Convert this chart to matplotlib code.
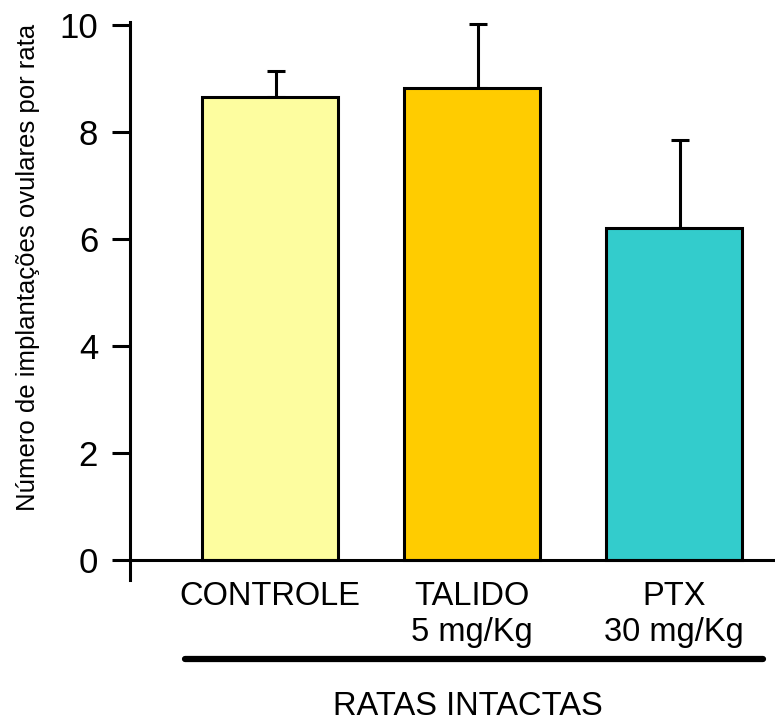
import numpy as np
import matplotlib.pyplot as plt
from matplotlib.lines import Line2D

plt.rcParams['font.family'] = ['Liberation Sans', 'DejaVu Sans']

groups = ['CONTROLE', 'TALIDO\n5 mg/Kg', 'PTX\n30 mg/Kg']
means = [8.66, 8.83, 6.20]
sem = [0.49, 1.20, 1.65]
colors = ['#FDFD9F', '#FFCC00', '#33CCCC']

x = np.arange(len(groups))

fig = plt.figure(figsize=(7.75, 7.24), dpi=100)
ax = fig.add_axes([0.1677, 0.1989, 0.8323, 0.7707])

ax.bar(x, means, width=0.67, color=colors, edgecolor='black', linewidth=2.2, zorder=2)
# error bars only on the upper side, a bit right of centre like in the original
ax.errorbar(x + 0.03, means, yerr=[np.zeros(len(sem)), sem], fmt='none', ecolor='black',
            elinewidth=2.2, capsize=6.5, capthick=2.2, zorder=1)

ax.set_xlim(-0.693, 2.5)
ax.set_ylim(-0.375, 10.06)
ax.set_yticks([0, 2, 4, 6, 8, 10])
ax.set_xticks(x)
ax.set_xticklabels(groups, linespacing=1.22)
ax.tick_params(axis='x', length=0, pad=15, labelsize=23.5)
ax.tick_params(axis='y', length=13, width=2.2, labelsize=25, pad=10)

ax.spines['top'].set_visible(False)
ax.spines['right'].set_visible(False)
ax.spines['bottom'].set_position(('data', 0))
ax.spines['left'].set_linewidth(2.2)
ax.spines['bottom'].set_linewidth(2.2)

fig.text(28 / 775, 1 - 267 / 724, 'Número de implantações ovulares por rata',
         fontsize=18.5, rotation=90, ha='center', va='center')

fig.add_artist(Line2D([185 / 775, 763 / 775], [1 - 659 / 724, 1 - 659 / 724],
                      transform=fig.transFigure, color='black', linewidth=4.5,
                      solid_capstyle='round'))
fig.text(467.5 / 775, 1 - 715 / 724, 'RATAS INTACTAS', fontsize=23.5, ha='center', va='baseline')

fig.savefig('out.png', dpi=100)
